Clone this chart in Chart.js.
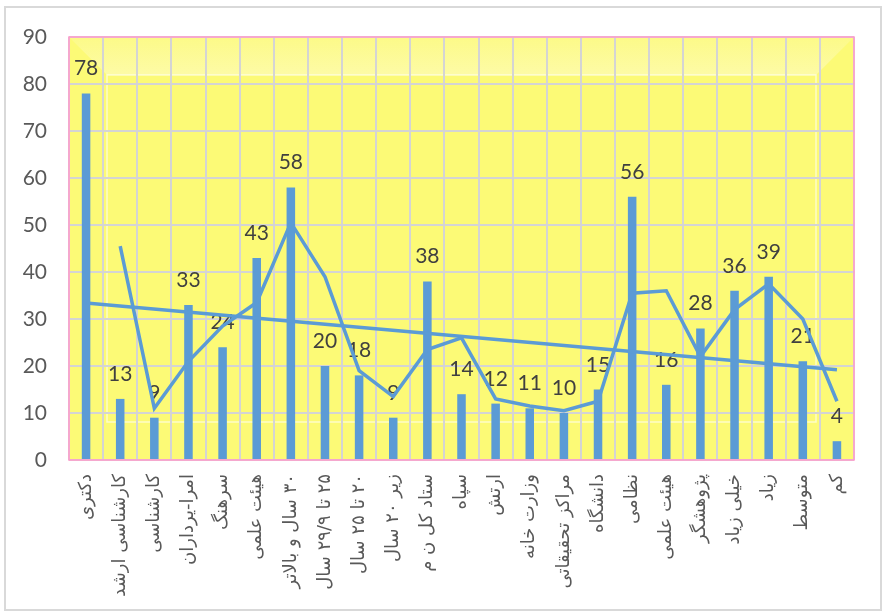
<!DOCTYPE html>
<html lang="fa">
<head>
<meta charset="UTF-8">
<title>نمودار</title>
<script src="https://cdn.jsdelivr.net/npm/chart.js"></script>
<style>
  html, body { margin: 0; padding: 0; background: #ffffff; }
  canvas { display: block; direction: rtl; }
</style>
</head>
<body>
<canvas id="chart" width="883" height="611"></canvas>
<script>
// categories (x axis)
const categories = [
  'دکتری', 'کارشناسی ارشد', 'کارشناسی', 'امرا-یرداران', 'سرهنگ', 'هیئت علمی',
  '۳۰ سال و بالاتر', '۲۵ تا ۲۹/۹ سال', '۲۰ تا ۲۵ سال', 'زیر ۲۰ سال', 'ستاد کل ن م',
  'سپاه', 'ارتش', 'وزارت خانه', 'مراکز تحقیقاتی', 'دانشگاه', 'نظامی', 'هیئت علمی',
  'پژوهشگر', 'خیلی زیاد', 'زیاد', 'متوسط', 'کم'
];

// bar values
const counts = [78, 13, 9, 33, 24, 43, 58, 20, 18, 9, 38, 14, 12, 11, 10, 15, 56, 16, 28, 36, 39, 21, 4];

// 2-period moving average line
const movingAvg = [null, 45.5, 11, 21, 28.5, 33.5, 50.5, 39, 19, 13.5, 23.5, 26, 13, 11.5, 10.5, 12.5, 35.5, 36, 22, 32, 37.5, 30, 12.5];

// linear trend line ends
const trendStart = 33.4;
const trendEnd = 19.2;

// y axis
const yMin = 0, yMax = 90, yStep = 10;

const blue = '#5B9BD5';

// plot area fill with the bevel look
const plotBackground = {
  id: 'plotBackground',
  beforeDraw(chart) {
    const ctx = chart.ctx;
    const a = chart.chartArea;
    ctx.save();
    // outer frame of the whole chart
    ctx.strokeStyle = '#D9D9D9';
    ctx.lineWidth = 2;
    ctx.strokeRect(5, 7, 876, 603);
    // base yellow
    ctx.fillStyle = '#FCFA76';
    ctx.fillRect(a.left, a.top, a.right - a.left, a.bottom - a.top);
    const b = 38;
    // lighter top bevel
    const g = ctx.createLinearGradient(0, a.top, 0, a.top + b);
    g.addColorStop(0, '#FCFA88');
    g.addColorStop(1, '#FDFBA6');
    ctx.fillStyle = g;
    ctx.beginPath();
    ctx.moveTo(a.left, a.top);
    ctx.lineTo(a.right, a.top);
    ctx.lineTo(a.right - b, a.top + b);
    ctx.lineTo(a.left + b, a.top + b);
    ctx.closePath();
    ctx.fill();
    // inner frame highlight
    ctx.strokeStyle = 'rgba(255,255,255,0.6)';
    ctx.lineWidth = 1.5;
    ctx.strokeRect(a.left + b, a.top + b, a.right - a.left - 2 * b, a.bottom - a.top - 2 * b);
    ctx.restore();
  },
  afterDraw(chart) {
    const ctx = chart.ctx;
    const a = chart.chartArea;
    ctx.save();
    ctx.strokeStyle = '#FF99CC';
    ctx.lineWidth = 1.5;
    ctx.strokeRect(a.left, a.top, a.right - a.left, a.bottom - a.top);
    ctx.restore();
  }
};

// value labels above bars, drawn before the lines
const barLabels = {
  id: 'barLabels',
  afterDatasetDraw(chart, args) {
    if (args.index !== 0) return;
    const ctx = chart.ctx;
    ctx.save();
    ctx.font = '21px Lato';
    ctx.fillStyle = '#404040';
    ctx.textAlign = 'center';
    ctx.textBaseline = 'alphabetic';
    args.meta.data.forEach((bar, i) => {
      ctx.fillText(String(counts[i]), bar.x, bar.y - 18);
    });
    ctx.restore();
  }
};

new Chart(document.getElementById('chart'), {
  type: 'bar',
  data: {
    labels: categories,
    datasets: [
      {
        type: 'bar',
        data: counts,
        backgroundColor: blue,
        barPercentage: 0.25,
        categoryPercentage: 1,
        order: 3
      },
      {
        type: 'line',
        data: movingAvg,
        borderColor: blue,
        borderWidth: 3.5,
        pointRadius: 0,
        tension: 0,
        order: 2
      },
      {
        type: 'line',
        data: [
          { x: categories[0], y: trendStart },
          { x: categories[categories.length - 1], y: trendEnd }
        ],
        borderColor: blue,
        borderWidth: 3.5,
        pointRadius: 0,
        order: 1
      }
    ]
  },
  options: {
    responsive: false,
    devicePixelRatio: 1,
    animation: false,
    layout: { padding: { left: 5, right: 29, top: 37, bottom: 0 } },
    plugins: {
      legend: { display: false },
      tooltip: { enabled: false }
    },
    scales: {
      x: {
        grid: { color: '#D4D4D4', lineWidth: 2, drawTicks: false, offset: true },
        border: { display: false },
        ticks: {
          autoSkip: false,
          minRotation: 90,
          maxRotation: 90,
          padding: 14,
          color: '#595959',
          font: { family: 'DejaVu Sans', size: 18 }
        },
        afterFit(scale) { scale.height = 151; }
      },
      y: {
        min: yMin,
        max: yMax,
        grid: { color: '#D4D4D4', lineWidth: 2, drawTicks: false },
        border: { display: false },
        ticks: {
          stepSize: yStep,
          padding: 22,
          color: '#595959',
          font: { family: 'Lato', size: 21 }
        },
        afterFit(scale) { scale.width = 64; }
      }
    }
  },
  plugins: [plotBackground, barLabels]
});
</script>
</body>
</html>
